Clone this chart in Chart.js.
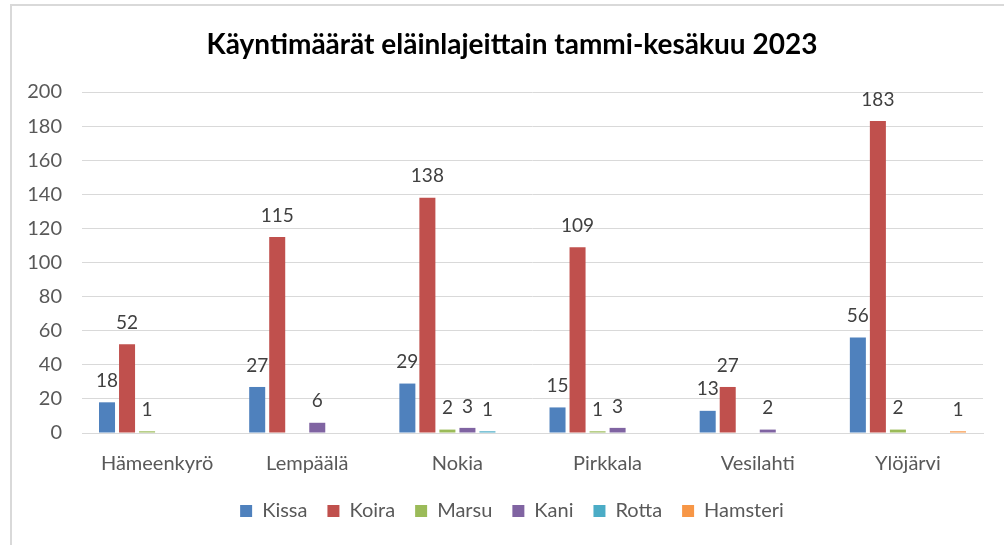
<!DOCTYPE html>
<html>
<head>
<meta charset="utf-8">
<script src="https://cdn.jsdelivr.net/npm/chart.js@4.4.1/dist/chart.umd.min.js"></script>
<style>
  body { margin: 0; background: #fff; overflow: hidden; }
  #wrap { position: relative; width: 1004px; height: 545px; }
  #frame { position: absolute; left: 10px; top: 4px; width: 1100px; height: 700px; border: 2px solid #d9d9d9; box-sizing: border-box; }
  canvas { position: absolute; left: 0; top: 0; }
</style>
</head>
<body>
<div id="wrap">
  <div id="frame"></div>
  <canvas id="myChart" width="1004" height="545"></canvas>
</div>
<script>
var municipalities = ['Hämeenkyrö', 'Lempäälä', 'Nokia', 'Pirkkala', 'Vesilahti', 'Ylöjärvi'];

var kissa = [18, 27, 29, 15, 13, 56];
var koira = [52, 115, 138, 109, 27, 183];
var marsu = [1, null, 2, 1, null, 2];
var kani = [null, 6, 3, 3, 2, null];
var rotta = [null, null, 1, null, null, null];
var hamsteri = [null, null, null, null, null, 1];

var yTicks = [0, 20, 40, 60, 80, 100, 120, 140, 160, 180, 200];

var chartTitle = 'Käyntimäärät eläinlajeittain tammi-kesäkuu 2023';

var font = "'Lato', 'Liberation Sans', sans-serif";
var textColor = '#595959';

function makeSet(label, data, color) {
    return {
        label: label,
        data: data,
        backgroundColor: color,
        borderWidth: 0,
        categoryPercentage: 0.8,
        barPercentage: 0.8
    };
}

// value labels above each bar + title centered on the framed area
var valueLabels = {
    id: 'valueLabels',
    afterDatasetsDraw: function(chart) {
        var ctx = chart.ctx;
        ctx.save();
        ctx.font = '19px ' + font;
        ctx.fillStyle = '#404040';
        ctx.textAlign = 'center';
        ctx.textBaseline = 'bottom';
        chart.data.datasets.forEach(function(ds, i) {
            var meta = chart.getDatasetMeta(i);
            meta.data.forEach(function(bar, j) {
                var v = ds.data[j];
                if (v === null || v === undefined) {
                    return;
                }
                ctx.fillText(String(v), bar.x, bar.y - 12);
            });
        });

        ctx.font = 'bold 28px ' + font;
        ctx.fillStyle = '#000';
        ctx.textBaseline = 'middle';
        ctx.fillText(chartTitle, 512, 45);
        ctx.restore();
    }
};

var chart = new Chart(document.getElementById('myChart'), {
    type: 'bar',
    data: {
        labels: municipalities,
        datasets: [
            makeSet('Kissa', kissa, '#4F81BD'),
            makeSet('Koira', koira, '#C0504D'),
            makeSet('Marsu', marsu, '#9BBB59'),
            makeSet('Kani', kani, '#8064A2'),
            makeSet('Rotta', rotta, '#4BACC6'),
            makeSet('Hamsteri', hamsteri, '#F79646')
        ]
    },
    options: {
        responsive: false,
        animation: false,
        layout: {
            padding: { left: 20, right: 0, top: 92, bottom: 14 }
        },
        scales: {
            x: {
                grid: { display: false },
                border: { display: true, color: '#d9d9d9', width: 1 },
                ticks: {
                    color: textColor,
                    font: { family: font, size: 20 },
                    padding: 11,
                    maxRotation: 0
                },
                afterFit: function(scale) {
                    scale.height = scale.height - 6;
                }
            },
            y: {
                min: 0,
                max: 200,
                afterBuildTicks: function(scale) {
                    scale.ticks = yTicks.map(function(v) { return { value: v }; });
                },
                afterFit: function(scale) {
                    scale.width = 62;
                },
                grid: { color: '#d9d9d9', drawTicks: false },
                border: { display: false },
                ticks: {
                    color: textColor,
                    font: { family: font, size: 20 },
                    padding: 20
                }
            },
            yRight: {
                position: 'right',
                display: true,
                grid: { display: false },
                border: { display: false },
                ticks: { display: false },
                afterFit: function(scale) {
                    scale.width = 21;
                }
            }
        },
        plugins: {
            title: { display: false },
            legend: {
                position: 'bottom',
                labels: {
                    color: textColor,
                    font: { family: font, size: 20 },
                    boxWidth: 12,
                    boxHeight: 12,
                    padding: 20
                }
            },
            tooltip: { enabled: false }
        }
    },
    plugins: [valueLabels]
});
</script>
</body>
</html>
